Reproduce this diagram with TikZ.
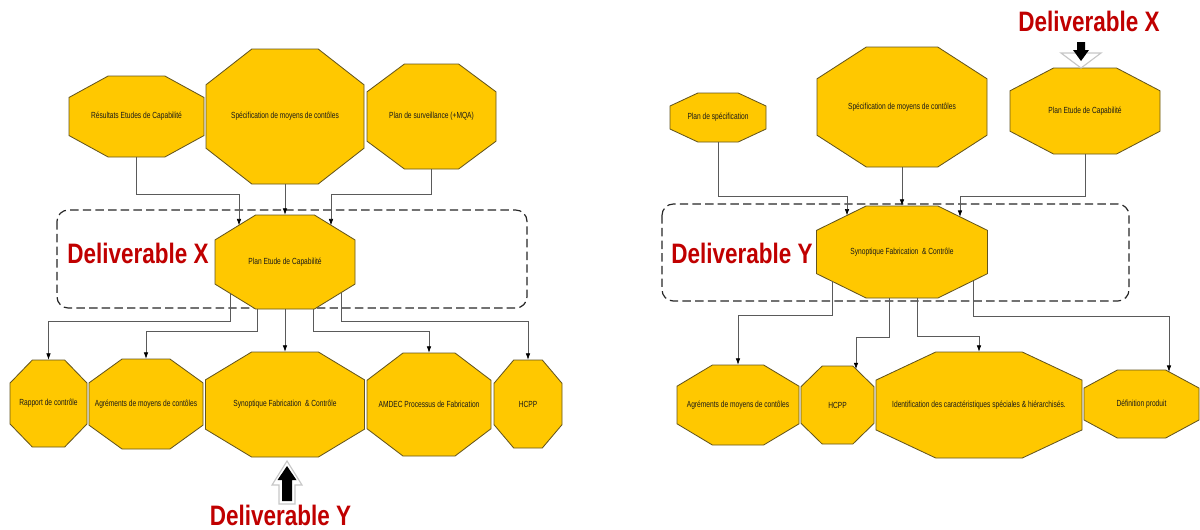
\documentclass[tikz,border=0pt]{standalone}
\usepackage{fontspec}
\newfontfamily\nodefont[FakeStretch=0.75]{Liberation Sans}
\newfontfamily\delivfont[FakeStretch=0.8]{Liberation Sans}
\usepackage{xcolor}
\usepackage{tikz}
\usetikzlibrary{arrows.meta,positioning,calc}

\definecolor{octyellow}{RGB}{255,200,0}
\definecolor{octedge}{RGB}{100,85,30}
\definecolor{delivred}{RGB}{192,0,0}
\definecolor{linkgray}{RGB}{90,90,90}

% octagon: name, centre, width, height, text
\newcommand{\octo}[5]{%
  \filldraw[octshape] (#2) +(-0.21*#3,-0.5*#4) -- +(0.21*#3,-0.5*#4) -- +(0.5*#3,-0.235*#4) -- +(0.5*#3,0.235*#4)
    -- +(0.21*#3,0.5*#4) -- +(-0.21*#3,0.5*#4) -- +(-0.5*#3,0.235*#4) -- +(-0.5*#3,-0.235*#4) -- cycle;
  \node[octtext, minimum width=#3*0.025cm, minimum height=#4*0.025cm] (#1) at (#2) {#5};%
}

\begin{document}
\begin{tikzpicture}[
        x=0.025cm, y=-0.025cm,
        octshape/.style={fill=octyellow, draw=octedge, line width=0.6pt},
        octtext/.style={rectangle, inner sep=0pt, align=center, text=black!90, font=\nodefont\fontsize{6.3}{7.5}\selectfont},
        link/.style={draw=linkgray, line width=0.45pt, -{Latex[length=4.5pt,width=3.2pt,color=black]}},
        zone/.style={draw=black!85, line width=0.85pt, dash pattern=on 6pt off 3pt, rounded corners=8pt},
        deliv/.style={inner sep=0pt, text=delivred, font=\delivfont\bfseries\fontsize{20}{24}\selectfont},
        glow/.style={draw=black!22, line width=0.8pt, fill=white},
        bigarrow/.style={fill=black}
    ]
        \useasboundingbox (0,0) rectangle (1200,529);

        % left part
        \octo{resl}{136.5,116.5}{135}{81}{Résultats Etudes de Capabilité}
        \octo{specl}{285,116.5}{158}{135}{Spécification de moyens de contôles}
        \octo{survl}{431.5,116.5}{129}{105}{Plan de surveillance (+MQA)}

        \draw[zone] (57,210) rectangle (527,308);
        \node[deliv, anchor=base west] (delivxl) at (67,263) {Deliverable X};
        \octo{pecl}{285,262}{140}{94}{Plan Etude de Capabilité}

        \octo{rapp}{48.5,403.5}{77}{87}{Rapport de contrôle}
        \octo{agrl}{146,404}{114}{90}{Agréments de moyens de contôles}
        \octo{synl}{285,404.5}{159}{105}{Synoptique Fabrication \ \& Contrôle}
        \octo{amdec}{429,404.5}{124}{103}{AMDEC Processus de Fabrication}
        \octo{hcppl}{528,404}{68}{88}{HCPP}

        \draw[link] (resl.south) -- ++(0,37) -| ($(pecl)+(-46,-36.7)$);
        \draw[link] (specl.south) -- (pecl.north);
        \draw[link] (survl.south) -- ++(0,25) -| ($(pecl)+(46,-36.7)$);

        \draw[link] ($(pecl)+(-55,31)$) |- ($(rapp.north)+(0,-38)$) -- (rapp.north);
        \draw[link] ($(pecl)+(-28,47)$) |- ($(agrl.north)+(0,-27)$) -- (agrl.north);
        \draw[link] (pecl.south) -- (synl.north);
        \draw[link] ($(pecl)+(28,47)$) |- ($(amdec.north)+(0,-21)$) -- (amdec.north);
        \draw[link] ($(pecl)+(56,31)$) |- ($(hcppl.north)+(0,-38)$) -- (hcppl.north);

        \draw[glow] (287,461) -- (302,485) -- (295,485) -- (295,504) -- (279,504) -- (279,485) -- (272,485) -- cycle;
        \fill[bigarrow] (287,466) -- (296.5,480) -- (292,480) -- (292,501) -- (282,501) -- (282,480) -- (277.5,480) -- cycle;
        \node[deliv, anchor=base] (delivyl) at (280.5,525) {Deliverable Y};

        % right part
        \octo{plsp}{718,117.5}{96}{49}{Plan de spécification}
        \octo{specr}{902,107}{170}{120}{Spécification de moyens de contôles}
        \octo{pecr}{1085,111}{150}{86}{Plan Etude de Capabilité}

        \node[deliv, anchor=base west] (delivxr) at (1018,31) {Deliverable X};
        \draw[glow] (1075,53) -- (1061,53) -- (1081,68) -- (1101,53) -- (1087,53);
        \fill[bigarrow] (1077,42) -- (1085,42) -- (1085,50) -- (1089,50) -- (1081,61) -- (1073,50) -- (1077,50) -- cycle;

        \draw[zone] (662,204) rectangle (1129,301);
        \node[deliv, anchor=base west] (delivyr) at (671,263) {Deliverable Y};
        \octo{synr}{902,252}{171}{92}{Synoptique Fabrication \ \& Contrôle}

        \octo{agrr}{738,405}{122}{80}{Agréments de moyens de contôles}
        \octo{hcppr}{837.5,405}{73}{78}{HCPP}
        \octo{ident}{979,405}{206}{106}{Identification des caractéristiques spéciales \& hiérarchisés.}
        \octo{defin}{1141.5,404}{115}{68}{Définition produit}

        \draw[link] (plsp.south) -- ++(0,54) -| ($(synr)+(-55,-36.6)$);
        \draw[link] (specr.south) -- (synr.north);
        \draw[link] (pecr.south) -- ++(0,42) -| ($(synr)+(58,-35.2)$);

        \draw[link] ($(synr)+(-70,29.2)$) |- ($(agrr.north)+(0,-49)$) -- (agrr.north);
        \draw[link] ($(synr)+(-13,46)$) |- ($(hcppr)+(18.5,-68)$) -- ($(hcppr)+(18.5,-35.9)$);
        \draw[link] ($(synr)+(15,46)$) |- ($(ident.north)+(0,-15)$) -- (ident.north);
        \draw[link] ($(synr)+(71,28.7)$) |- ($(defin)+(27.5,-88)$) -- ($(defin)+(27.5,-32.2)$);
    \end{tikzpicture}
\end{document}
